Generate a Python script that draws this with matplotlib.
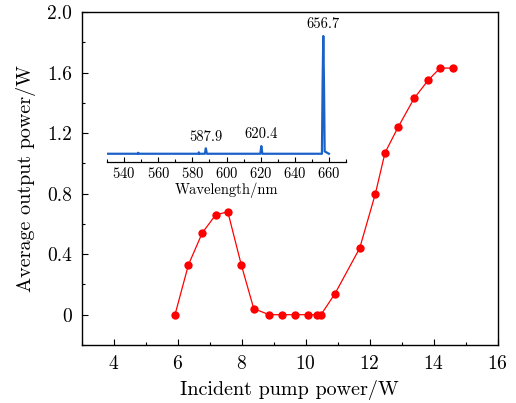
import matplotlib
matplotlib.use("Agg")
import matplotlib.pyplot as plt
from matplotlib.ticker import MultipleLocator

plt.rcParams.update({
    "font.family": "serif",
    "font.serif": ["cmr10", "DejaVu Serif"],
    "mathtext.fontset": "cm",
    "axes.formatter.use_mathtext": True,
    "axes.unicode_minus": False,
})

# ---- main curve: output power vs incident pump power ----
PUMP_W = [5.92, 6.34, 6.77, 7.19, 7.57, 7.99, 8.38, 8.86, 9.26, 9.66,
          10.06, 10.35, 10.48, 10.92, 11.69, 12.18, 12.48, 12.89, 13.39,
          13.83, 14.20, 14.60]
OUTPUT_W = [0.0, 0.33, 0.54, 0.66, 0.68, 0.33, 0.04, 0.0, 0.0, 0.0,
            0.0, 0.0, 0.0, 0.14, 0.44, 0.80, 1.07, 1.24, 1.43,
            1.55, 1.63, 1.63]

Y_TICKS = [0, 0.4, 0.8, 1.2, 1.6, 2.0]
Y_TICK_LABELS = ["0", "0.4", "0.8", "1.2", "1.6", "2.0"]

# ---- inset spectrum (normalised intensity) ----
WAVELENGTH_NM = [530.0, 548.0, 548.3, 548.6, 583.5, 583.8, 584.1, 587.3, 587.9,
                 588.5, 619.8, 620.4, 621.0, 655.9, 656.3, 656.7, 657.1, 657.5,
                 660.0]
INTENSITY = [0.0, 0.0, 0.008, 0.0, 0.0, 0.012, 0.0, 0.0, 0.046,
             0.0, 0.0, 0.065, 0.0, 0.0, 0.6, 1.0, 0.6, 0.02,
             0.0]
PEAK_LABELS = [(587.9, 0.046, "587.9"), (620.4, 0.065, "620.4"),
               (656.7, 1.0, "656.7")]

fig = plt.figure(figsize=(5.16, 4.03), dpi=100)
ax = fig.add_axes([0.158, 0.144, 0.8065, 0.826])

ax.plot(PUMP_W, OUTPUT_W, color="#ff0000", linewidth=0.9, marker="o",
        markersize=6, markeredgewidth=0, zorder=3)

ax.set_xlim(3, 16)
ax.set_ylim(-0.2, 2.0)
ax.set_xticks([4, 6, 8, 10, 12, 14, 16])
ax.xaxis.set_minor_locator(MultipleLocator(1))
ax.set_yticks(Y_TICKS)
ax.set_yticklabels(Y_TICK_LABELS)
ax.yaxis.set_minor_locator(MultipleLocator(0.2))
ax.tick_params(which="both", direction="in", labelsize=14, pad=7)
ax.tick_params(which="major", length=4, width=0.8)
ax.tick_params(which="minor", length=2.5, width=0.8)
for s in ax.spines.values():
    s.set_linewidth(1.0)

ax.set_xlabel("Incident pump power/W", fontsize=14.5, labelpad=5)
ax.set_ylabel("Average output power/W", fontsize=14.5, labelpad=8)

# ---- inset ----
ins = fig.add_axes([107 / 516, 1 - 162 / 403, 239 / 516, 142 / 403])
ins.patch.set_visible(False)
ins.plot(WAVELENGTH_NM, INTENSITY, color="#1a62c8", linewidth=1.6)
for wl, h, txt in PEAK_LABELS:
    ins.text(wl, h + 0.04, txt, ha="center", va="bottom", fontsize=10.5)
ins.set_xlim(530, 670)
ins.set_ylim(-0.07, 1.136)
for side in ["top", "left", "right"]:
    ins.spines[side].set_visible(False)
ins.spines["bottom"].set_linewidth(0.9)
ins.set_yticks([])
ins.set_xticks([540, 560, 580, 600, 620, 640, 660])
ins.xaxis.set_minor_locator(MultipleLocator(10))
ins.tick_params(which="both", direction="in", labelsize=10.5, pad=3)
ins.tick_params(which="major", length=3.5, width=0.8)
ins.tick_params(which="minor", length=2, width=0.8)
ins.set_xlabel("Wavelength/nm", fontsize=10.5, labelpad=1)

fig.savefig("out.png", dpi=100)
